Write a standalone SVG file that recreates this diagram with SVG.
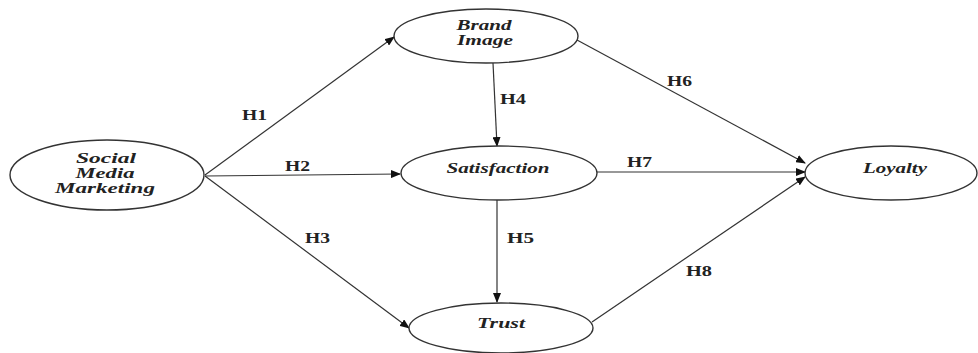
<svg xmlns="http://www.w3.org/2000/svg" width="978" height="353" viewBox="0 0 978 353">
<style>
  .node ellipse { fill: #ffffff; stroke: #333333; stroke-width: 1.4; }
  .node text { font-family: "Liberation Serif", "DejaVu Serif", "Times New Roman", serif; font-style: italic; font-weight: bold; font-size: 14px; fill: #222222; text-anchor: middle; }
  .conn line { stroke: #333333; stroke-width: 1.2; marker-end: url(#arr); }
  .lbl { font-family: "Liberation Serif", "DejaVu Serif", "Times New Roman", serif; font-weight: bold; font-size: 14px; fill: #222222; }
</style>
<defs>
  <marker id="arr" markerWidth="10" markerHeight="8" refX="9" refY="4" orient="auto" markerUnits="userSpaceOnUse">
    <path d="M0,0 L10,4 L0,8 Z" fill="#111111"/>
  </marker>
</defs>
<rect width="978" height="353" fill="#ffffff"/>
<g id="connectors" class="conn">
  <line x1="205" y1="175" x2="394" y2="37"/>
  <line x1="205" y1="176" x2="400" y2="174"/>
  <line x1="205" y1="176" x2="409" y2="328"/>
  <line x1="493" y1="63" x2="497" y2="146"/>
  <line x1="497" y1="200" x2="497" y2="302"/>
  <line x1="577" y1="40" x2="805" y2="163"/>
  <line x1="597" y1="172" x2="805" y2="172"/>
  <line x1="592" y1="322" x2="805" y2="177"/>
</g>
<g id="labels">
  <text class="lbl" x="242" y="120" textLength="25" lengthAdjust="spacingAndGlyphs">H1</text>
  <text class="lbl" x="285" y="171" textLength="25" lengthAdjust="spacingAndGlyphs">H2</text>
  <text class="lbl" x="305" y="243" textLength="25" lengthAdjust="spacingAndGlyphs">H3</text>
  <text class="lbl" x="500" y="104" textLength="26" lengthAdjust="spacingAndGlyphs">H4</text>
  <text class="lbl" x="507" y="243" textLength="27" lengthAdjust="spacingAndGlyphs">H5</text>
  <text class="lbl" x="667" y="86" textLength="25" lengthAdjust="spacingAndGlyphs">H6</text>
  <text class="lbl" x="627" y="167" textLength="25" lengthAdjust="spacingAndGlyphs">H7</text>
  <text class="lbl" x="686" y="276" textLength="26" lengthAdjust="spacingAndGlyphs">H8</text>
</g>
<g id="smm" class="node">
  <ellipse cx="107" cy="175" rx="97" ry="35"/>
  <text x="106" y="163" textLength="60" lengthAdjust="spacingAndGlyphs">Social</text>
  <text x="105" y="178" textLength="59" lengthAdjust="spacingAndGlyphs">Media</text>
  <text x="105" y="193" textLength="100" lengthAdjust="spacingAndGlyphs">Marketing</text>
</g>
<g id="brand" class="node">
  <ellipse cx="486" cy="36" rx="92" ry="27"/>
  <text x="484" y="30" textLength="55" lengthAdjust="spacingAndGlyphs">Brand</text>
  <text x="485" y="45" textLength="56" lengthAdjust="spacingAndGlyphs">Image</text>
</g>
<g id="satisfaction" class="node">
  <ellipse cx="499" cy="173" rx="98" ry="27"/>
  <text x="498" y="173" textLength="103" lengthAdjust="spacingAndGlyphs">Satisfaction</text>
</g>
<g id="trust" class="node">
  <ellipse cx="501" cy="328" rx="92" ry="25"/>
  <text x="501" y="328" textLength="48" lengthAdjust="spacingAndGlyphs">Trust</text>
</g>
<g id="loyalty" class="node">
  <ellipse cx="891" cy="173" rx="86" ry="27"/>
  <text x="895" y="173" textLength="64" lengthAdjust="spacingAndGlyphs">Loyalty</text>
</g>
</svg>
